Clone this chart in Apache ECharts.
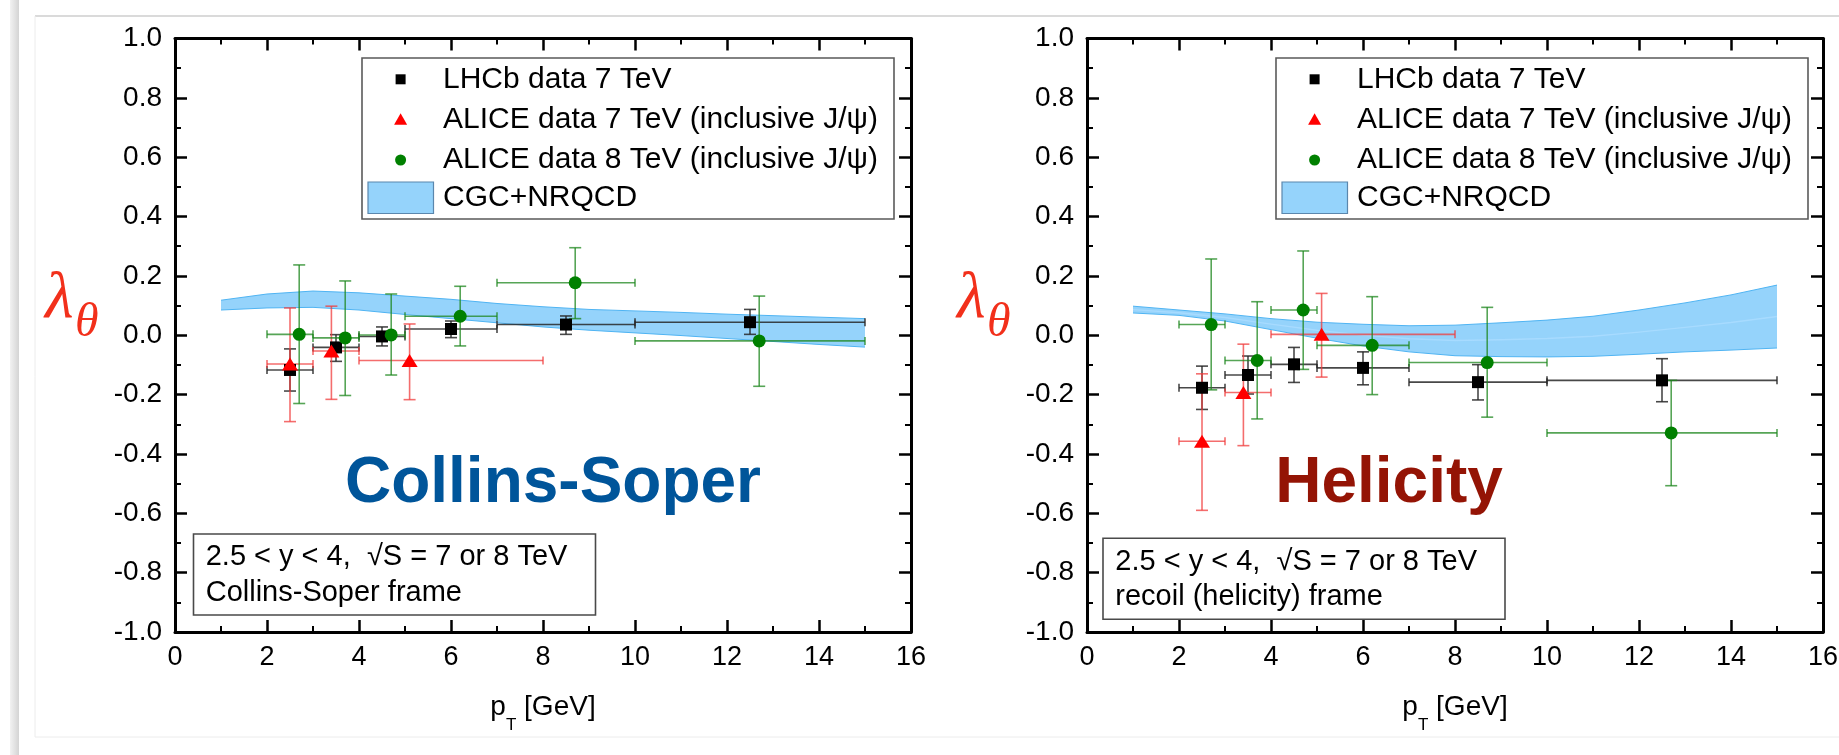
<!DOCTYPE html>
<html>
<head>
<meta charset="utf-8">
<title>J/psi polarization lambda_theta vs pT</title>
<script src="https://cdn.jsdelivr.net/npm/echarts@6/dist/echarts.min.js"></script>
<style>
  html, body { margin: 0; padding: 0; background: #ffffff; }
  #chart { width: 1839px; height: 755px; }
</style>
</head>
<body>
<div id="chart"></div>
<script>
// Polarization parameter lambda_theta of J/psi at forward rapidity,
// Collins-Soper frame (left) and helicity frame (right).

const FONT = "'Liberation Sans', Arial, Helvetica, sans-serif";
const SERIF = "'Liberation Serif', 'Times New Roman', serif";

// ---- data: rows are [pT, lambda, pT low, pT high, lambda low, lambda high] ----
const csLHCb = [
  [2.5, -0.117, 2, 3, -0.188, -0.046],
  [3.5, -0.041, 3, 4, -0.088, 0.002],
  [4.5, -0.004, 4, 5, -0.036, 0.028],
  [6.0, 0.021, 5, 7, -0.008, 0.048],
  [8.5, 0.036, 7, 10, 0.003, 0.065],
  [12.5, 0.044, 10, 15, 0.003, 0.087]
];
const csAlice7 = [
  [2.5, -0.097, 2, 3, -0.291, 0.092],
  [3.4, -0.053, 3, 4, -0.216, 0.098],
  [5.1, -0.085, 4, 8, -0.217, 0.038]
];
const csAlice8 = [
  [2.7, 0.003, 2, 3, -0.230, 0.237],
  [3.7, -0.009, 3, 4, -0.203, 0.183],
  [4.7, 0.001, 4, 5, -0.134, 0.139],
  [6.2, 0.064, 5, 7, -0.036, 0.165],
  [8.7, 0.177, 7, 10, 0.056, 0.295],
  [12.7, -0.019, 10, 15, -0.172, 0.132]
];
const hxLHCb = [
  [2.5, -0.177, 2, 3, -0.250, -0.104],
  [3.5, -0.134, 3, 4, -0.198, -0.070],
  [4.5, -0.098, 4, 5, -0.159, -0.041],
  [6.0, -0.110, 5, 7, -0.167, -0.056],
  [8.5, -0.158, 7, 10, -0.218, -0.099],
  [12.5, -0.152, 10, 15, -0.224, -0.079]
];
const hxAlice7 = [
  [2.5, -0.357, 2, 3, -0.590, -0.130],
  [3.4, -0.193, 3, 4, -0.372, -0.030],
  [5.1, 0.003, 4, 8, -0.141, 0.141]
];
const hxAlice8 = [
  [2.7, 0.036, 2, 3, -0.184, 0.257],
  [3.7, -0.085, 3, 4, -0.282, 0.113],
  [4.7, 0.085, 4, 5, -0.115, 0.284],
  [6.2, -0.034, 5, 7, -0.200, 0.130],
  [8.7, -0.092, 7, 10, -0.276, 0.094],
  [12.7, -0.329, 10, 15, -0.507, -0.152]
];

// CGC+NRQCD uncertainty band
const bandPt = [1, 2, 3, 4, 5, 6, 7, 8, 9, 10, 11, 12, 13, 14, 15];
const csBandLow  = [0.085, 0.092, 0.094, 0.085, 0.070, 0.056, 0.042, 0.028, 0.017, 0.008, -0.001, -0.011, -0.021, -0.031, -0.040];
const csBandHigh = [0.118, 0.139, 0.149, 0.143, 0.132, 0.121, 0.107, 0.096, 0.087, 0.082, 0.077, 0.071, 0.066, 0.061, 0.056];
const hxBandLow  = [0.075, 0.067, 0.048, 0.019, -0.010, -0.036, -0.056, -0.069, -0.072, -0.073, -0.071, -0.064, -0.056, -0.050, -0.043];
const hxBandHigh = [0.098, 0.085, 0.072, 0.056, 0.044, 0.037, 0.032, 0.034, 0.042, 0.051, 0.064, 0.085, 0.109, 0.136, 0.169];

// ---- labels ----
const seriesNames = ['LHCb data 7 TeV', 'ALICE data 7 TeV (inclusive J/\u03c8)', 'ALICE data 8 TeV (inclusive J/\u03c8)', 'CGC+NRQCD'];
const frameTitles = ['Collins-Soper', 'Helicity'];
const frameNotes = [
  ['2.5 < y < 4,  \u221aS = 7 or 8 TeV', 'Collins-Soper frame'],
  ['2.5 < y < 4,  \u221aS = 7 or 8 TeV', 'recoil (helicity) frame']
];
const xRange = [0, 16];
const yRange = [-1, 1];

// ---- styles ----
const markerColors = ['#000000', '#ff0000', '#008000'];
const errColors = ['rgba(40,40,40,0.85)', 'rgba(240,60,60,0.75)', 'rgba(30,135,30,0.75)'];
const markerSymbols = ['rect', 'triangle', 'circle'];
const markerSizes = [12, [16, 13], 13];
const bandFill = '#95d3fb';
const bandEdge = '#4fb4f3';
const titleColors = ['#00559a', '#941405'];
const lambdaColor = '#f2301b';

const frames = [
  { pts: [csLHCb, csAlice7, csAlice8], low: csBandLow, high: csBandHigh, left: 175, midline: false },
  { pts: [hxLHCb, hxAlice7, hxAlice8], low: hxBandLow, high: hxBandHigh, left: 1087, midline: true }
];
const GRID_TOP = 38.5, GRID_W = 736, GRID_H = 593.5;

function errorBarItem(color) {
  return function (params, api) {
    const x = api.value(0), y = api.value(1);
    const pl = api.coord([api.value(2), y]);
    const ph = api.coord([api.value(3), y]);
    const pb = api.coord([x, api.value(4)]);
    const pt = api.coord([x, api.value(5)]);
    const cw = 6, ch = 4;
    const style = { stroke: color, lineWidth: 1.6, fill: null };
    const seg = (x1, y1, x2, y2) => ({ type: 'line', shape: { x1, y1, x2, y2 }, style });
    return {
      type: 'group',
      children: [
        seg(pl[0], pl[1], ph[0], ph[1]),
        seg(pl[0], pl[1] - ch, pl[0], pl[1] + ch),
        seg(ph[0], ph[1] - ch, ph[0], ph[1] + ch),
        seg(pb[0], pb[1], pt[0], pt[1]),
        seg(pb[0] - cw, pb[1], pb[0] + cw, pb[1]),
        seg(pt[0] - cw, pt[1], pt[0] + cw, pt[1])
      ]
    };
  };
}

function bandItem(rows, withMid) {
  return function (params, api) {
    if (params.dataIndex !== 0) return null;
    const upper = rows.map(r => api.coord([r[0], r[2]]));
    const lower = rows.map(r => api.coord([r[0], r[1]]));
    const children = [
      { type: 'polygon', shape: { points: upper.concat(lower.slice().reverse()) }, style: { fill: bandFill, stroke: null } }
    ];
    if (withMid) {
      const mid = rows.map(r => api.coord([r[0], (r[1] + r[2]) / 2]));
      children.push({ type: 'polyline', shape: { points: mid }, style: { stroke: 'rgba(170,220,255,0.85)', lineWidth: 1.4, fill: null } });
    }
    children.push({ type: 'polyline', shape: { points: upper }, style: { stroke: bandEdge, lineWidth: 1, fill: null } });
    children.push({ type: 'polyline', shape: { points: lower }, style: { stroke: bandEdge, lineWidth: 1, fill: null } });
    return { type: 'group', children };
  };
}

const grids = [], xAxes = [], yAxes = [], series = [];

const tickStyle = {
  axisLine: { show: true, onZero: false, lineStyle: { color: '#000', width: 3 } },
  axisTick: { show: true, inside: true, length: 12, lineStyle: { color: '#000', width: 2.5 } },
  minorTick: { show: true, splitNumber: 2, length: 6, lineStyle: { color: '#000', width: 2 } },
  splitLine: { show: false },
  minorSplitLine: { show: false }
};

frames.forEach((f, g) => {
  grids.push({ left: f.left, top: GRID_TOP, width: GRID_W, height: GRID_H, containLabel: false, outerBoundsMode: 'none' });

  const xBase = { type: 'value', gridIndex: g, min: xRange[0], max: xRange[1], interval: 2, ...tickStyle };
  xAxes.push(Object.assign({}, xBase, {
    position: 'bottom',
    axisLabel: { show: true, margin: 12, fontSize: 27, fontFamily: FONT, color: '#000', showMinLabel: true, showMaxLabel: true },
    name: '{a|p}{b|T}{a| [GeV]}',
    nameLocation: 'middle',
    nameGap: 61,
    nameTextStyle: {
      rich: {
        a: { fontSize: 28, fontFamily: FONT, color: '#000', lineHeight: 41, verticalAlign: 'top' },
        b: { fontSize: 17, fontFamily: FONT, color: '#000', lineHeight: 17, padding: [24, 0, 0, 0], verticalAlign: 'top' }
      }
    }
  }));
  xAxes.push(Object.assign({}, xBase, { position: 'top', axisLabel: { show: false } }));

  const yBase = { type: 'value', gridIndex: g, min: yRange[0], max: yRange[1], interval: 0.2, ...tickStyle };
  yAxes.push(Object.assign({}, yBase, {
    position: 'left',
    axisLabel: {
      show: true, margin: 13, fontSize: 28, fontFamily: FONT, color: '#000',
      showMinLabel: true, showMaxLabel: true,
      formatter: v => (Math.abs(v) < 1e-9 ? 0 : v).toFixed(1)
    }
  }));
  yAxes.push(Object.assign({}, yBase, { position: 'right', axisLabel: { show: false } }));

  const xi = 2 * g, yi = 2 * g;
  const bandRows = bandPt.map((x, i) => [x, f.low[i], f.high[i]]);

  series.push({
    type: 'custom',
    name: seriesNames[3],
    xAxisIndex: xi, yAxisIndex: yi,
    data: bandRows,
    encode: { x: 0, y: [1, 2] },
    renderItem: bandItem(bandRows, f.midline),
    silent: true, z: 1
  });

  f.pts.forEach((rows, k) => {
    series.push({
      type: 'custom',
      name: seriesNames[k],
      xAxisIndex: xi, yAxisIndex: yi,
      data: rows,
      encode: { x: [0, 2, 3], y: [1, 4, 5] },
      renderItem: errorBarItem(errColors[k]),
      silent: true, z: 2
    });
  });
  f.pts.forEach((rows, k) => {
    series.push({
      type: 'scatter',
      name: seriesNames[k],
      xAxisIndex: xi, yAxisIndex: yi,
      data: rows.map(r => [r[0], r[1]]),
      symbol: markerSymbols[k],
      symbolSize: markerSizes[k],
      itemStyle: { color: markerColors[k], opacity: 1 },
      silent: true, z: 3
    });
  });
});

// ---- decorations: legends, frame notes, titles, lambda_theta labels ----
const graphics = [
  { type: 'rect', shape: { x: 10, y: 0, width: 9, height: 755 },
    style: { fill: new echarts.graphic.LinearGradient(0, 0, 1, 0, [{ offset: 0, color: '#f2f2f2' }, { offset: 1, color: '#d4d4d4' }]) }, silent: true },
  { type: 'line', shape: { x1: 35, y1: 16, x2: 1839, y2: 16 }, style: { stroke: '#dadada', lineWidth: 2 }, silent: true },
  { type: 'line', shape: { x1: 35, y1: 16, x2: 35, y2: 737 }, style: { stroke: '#ececec', lineWidth: 1 }, silent: true },
  { type: 'line', shape: { x1: 35, y1: 737, x2: 1839, y2: 737 }, style: { stroke: '#ececec', lineWidth: 1 }, silent: true }
];

const legendBoxes = [{ x: 362, y: 58 }, { x: 1276, y: 58 }];
const legendRowY = [79.3, 119.3, 160, 197.6];
const noteBoxes = [{ x: 193.5, y: 534, tx: 205.7, ty: [556.7, 593.3] }, { x: 1103, y: 538.3, tx: 1115.3, ty: [561.7, 597.3] }];
const titleCenters = [553, 1389];

legendBoxes.forEach((b, g) => {
  const mx = b.x + 38.6, tx = b.x + 81;
  graphics.push({ type: 'rect', shape: { x: b.x, y: b.y, width: 532, height: 161 }, style: { fill: '#fff', stroke: '#5a5a5a', lineWidth: 1.6 }, z: 10 });
  graphics.push({ type: 'rect', shape: { x: mx - 5, y: legendRowY[0] - 5, width: 10, height: 10 }, style: { fill: markerColors[0] }, z: 11 });
  graphics.push({ type: 'polygon', shape: { points: [[mx, legendRowY[1] - 6], [mx + 6.5, legendRowY[1] + 5.5], [mx - 6.5, legendRowY[1] + 5.5]] }, style: { fill: markerColors[1] }, z: 11 });
  graphics.push({ type: 'circle', shape: { cx: mx, cy: legendRowY[2], r: 5.5 }, style: { fill: markerColors[2] }, z: 11 });
  graphics.push({ type: 'rect', shape: { x: b.x + 6, y: 182, width: 65.5, height: 31.5 }, style: { fill: bandFill, stroke: '#5b87ad', lineWidth: 1.2 }, z: 11 });
  seriesNames.forEach((name, k) => {
    graphics.push({ type: 'text', x: tx, y: legendRowY[k], z: 11,
      style: { text: name, fontSize: 30, fontFamily: FONT, fill: '#000', align: 'left', verticalAlign: 'middle' } });
  });

  const n = noteBoxes[g];
  graphics.push({ type: 'rect', shape: { x: n.x, y: n.y, width: 402, height: 81 }, style: { fill: '#fff', stroke: '#4a4a4a', lineWidth: 1.6 }, z: 10 });
  frameNotes[g].forEach((line, k) => {
    graphics.push({ type: 'text', x: n.tx, y: n.ty[k], z: 11,
      style: { text: line, fontSize: 29, fontFamily: FONT, fill: '#000', align: 'left', verticalAlign: 'middle' } });
  });

  graphics.push({ type: 'text', x: titleCenters[g], y: 484.8, z: 11,
    style: { text: frameTitles[g], fontSize: 64, fontWeight: 'bold', fontFamily: FONT, fill: titleColors[g], align: 'center', verticalAlign: 'middle' } });

  const lx = frames[g].left - 130;
  graphics.push({ type: 'text', x: lx, y: 299.5, z: 11,
    style: { text: '\u03bb', fontSize: 66, fontStyle: 'italic', fontFamily: SERIF, fill: lambdaColor, align: 'left', verticalAlign: 'middle' } });
  graphics.push({ type: 'text', x: lx + 30, y: 323.8, z: 11,
    style: { text: '\u03b8', fontSize: 48, fontStyle: 'italic', fontFamily: SERIF, fill: lambdaColor, align: 'left', verticalAlign: 'middle' } });
});

const chart = echarts.init(document.getElementById('chart'), null, { renderer: 'canvas' });
chart.setOption({
  animation: false,
  backgroundColor: '#ffffff',
  textStyle: { fontFamily: FONT },
  grid: grids,
  xAxis: xAxes,
  yAxis: yAxes,
  series: series,
  graphic: graphics
});
</script>
</body>
</html>
